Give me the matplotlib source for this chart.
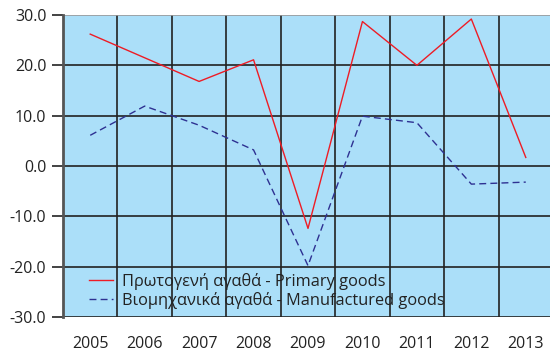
import matplotlib.pyplot as plt
import numpy as np

years = ["2005", "2006", "2007", "2008", "2009", "2010", "2011", "2012", "2013"]
primary = [26.2, 21.5, 16.8, 21.1, -12.4, 28.7, 20.0, 29.2, 1.7]
manufactured = [6.1, 11.9, 8.1, 3.2, -19.8, 9.9, 8.6, -3.6, -3.2]

labels = ["Πρωτογενή αγαθά - Primary goods", "Βιομηχανικά αγαθά - Manufactured goods"]

plt.rcParams["font.family"] = ["Open Sans", "DejaVu Sans"]

fig = plt.figure(figsize=(5.5, 3.54), dpi=100)
ax = fig.add_axes([63 / 550, 1 - 317 / 354, 490 / 550, 302 / 354])
ax.set_facecolor("#abdff9")

x = np.arange(len(years))
ax.plot(x, primary, color="#ee1c25", lw=1.0, label=labels[0])
ax.plot(x, manufactured, color="#2e3192", lw=1.0, ls=(0, (5, 3)), label=labels[1])

ax.set_xlim(-0.5, len(years) - 0.5)
ax.set_ylim(-30, 30)
ax.set_yticks(np.arange(-30, 31, 10))
ax.set_yticklabels([f"{v:.1f}" for v in np.arange(-30, 31, 10)])
ax.set_xticks(x)
ax.set_xticklabels(years)
ax.set_xticks(np.arange(-0.5, len(years), 1), minor=True)

ax.grid(True, which="major", axis="y", color="#222222", lw=1.2)
ax.grid(True, which="minor", axis="x", color="#222222", lw=1.2)
ax.get_ygridlines()[-1].set_color("#999999")
ax.set_axisbelow(True)

for side in ["top", "right", "bottom"]:
    ax.spines[side].set_visible(False)
ax.spines["left"].set_color("#555555")
ax.spines["left"].set_linewidth(2)

ax.tick_params(axis="y", which="major", length=8, width=1.2, color="#222222",
               labelsize=11.5, labelcolor="#222222", pad=4)
ax.tick_params(axis="x", which="major", length=0, labelsize=11.5, labelcolor="#222222", pad=14)
ax.tick_params(axis="x", which="minor", length=0)

leg = ax.legend(loc="lower left", bbox_to_anchor=(26 / 490, 8 / 302), frameon=False,
                fontsize=11.8, handlelength=1.45, handletextpad=0.55,
                labelspacing=0.12, borderaxespad=0, borderpad=0)
for t in leg.get_texts():
    t.set_color("#222222")

fig.savefig("out.png", dpi=100)
